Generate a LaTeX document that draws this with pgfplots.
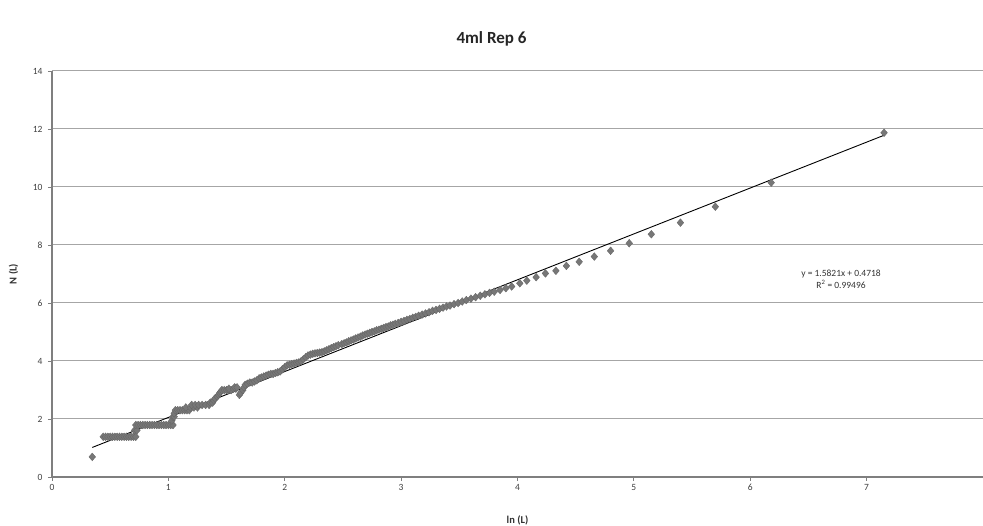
\documentclass[border=0pt]{standalone}
\usepackage{fontspec}
\setmainfont{Carlito}
\usepackage{pgfplots}
\pgfplotsset{compat=1.18}
\usetikzlibrary{calc}
\definecolor{gridc}{HTML}{A6A6A6}
\definecolor{axisc}{HTML}{7F7F7F}
\definecolor{markc}{HTML}{777777}
\begin{document}
\begin{tikzpicture}
\begin{axis}[
  at={(0,0)}, anchor=south west,
  scale only axis, width=931pt, height=406pt,
  xmin=0, xmax=8, ymin=0, ymax=14,
  xtick={0,1,2,3,4,5,6,7}, ytick={0,2,4,6,8,10,12,14},
  axis x line*=bottom, axis y line*=left,
  axis line style={draw=axisc, line width=1.1pt},
  ymajorgrids, grid style={draw=gridc, line width=1pt},
  tick align=outside, major tick length=4pt,
  tick style={draw=axisc, line width=0.8pt},
  /pgf/number format/assume math mode=true,
  ticklabel style={font=\fontsize{9.5}{11}\selectfont, text=black!75},
  yticklabel style={xshift=-2pt},
  xlabel={ln (L)}, ylabel={N (L)},
  label style={font=\bfseries\fontsize{10.5}{12}\selectfont, text=black!80},
  xlabel style={at={(axis description cs:0.5,-0.106)}, anchor=center},
  ylabel style={at={(axis description cs:-0.0414,0.5)}, anchor=center},
  clip=false,
]
\addplot[only marks, mark=diamond*, mark size=3.9pt,
  mark options={fill=markc, draw=markc!85!black, line width=0.3pt, xscale=1.15}]
table {
x y
0.346 0.693
0.44 1.386
0.46 1.386
0.48 1.386
0.50 1.386
0.52 1.386
0.54 1.386
0.56 1.386
0.58 1.386
0.60 1.386
0.62 1.386
0.64 1.386
0.66 1.386
0.68 1.386
0.70 1.386
0.72 1.386
0.71 1.609
0.73 1.609
0.72 1.792
0.74 1.792
0.76 1.792
0.78 1.792
0.80 1.792
0.82 1.792
0.84 1.792
0.86 1.792
0.88 1.792
0.90 1.792
0.92 1.792
0.94 1.792
0.96 1.792
0.98 1.792
1.00 1.792
1.02 1.792
1.04 1.792
1.03 1.946
1.04 2.079
1.05 2.079
1.05 2.197
1.06 2.303
1.08 2.303
1.10 2.303
1.12 2.303
1.14 2.303
1.16 2.303
1.18 2.303
1.15 2.398
1.19 2.398
1.22 2.398
1.25 2.398
1.20 2.485
1.23 2.485
1.26 2.485
1.29 2.485
1.32 2.485
1.35 2.485
1.36 2.565
1.38 2.565
1.39 2.639
1.40 2.708
1.42 2.773
1.43 2.833
1.44 2.890
1.45 2.944
1.46 2.996
1.48 2.996
1.50 2.996
1.52 2.996
1.54 2.996
1.52 3.045
1.56 3.045
1.58 3.045
1.57 3.091
1.59 3.091
1.61 2.833
1.62 2.890
1.64 2.996
1.65 3.091
1.66 3.178
1.68 3.219
1.70 3.258
1.72 3.258
1.74 3.296
1.76 3.332
1.78 3.401
1.80 3.434
1.82 3.466
1.84 3.497
1.86 3.526
1.88 3.555
1.90 3.555
1.92 3.584
1.94 3.611
1.96 3.638
1.98 3.714
2.00 3.784
2.02 3.850
2.04 3.871
2.06 3.892
2.08 3.912
2.10 3.932
2.12 3.951
2.14 3.989
2.16 4.060
2.18 4.127
2.20 4.190
2.22 4.220
2.24 4.248
2.26 4.263
2.28 4.277
2.30 4.290
2.32 4.304
2.34 4.331
2.36 4.369
2.38 4.407
2.40 4.443
2.42 4.477
2.44 4.511
2.46 4.543
2.49 4.58
2.51 4.61
2.53 4.64
2.55 4.68
2.57 4.71
2.59 4.74
2.61 4.78
2.63 4.81
2.65 4.84
2.67 4.88
2.69 4.91
2.71 4.94
2.73 4.97
2.75 5.00
2.77 5.02
2.79 5.06
2.81 5.08
2.83 5.11
2.85 5.14
2.87 5.17
2.89 5.19
2.91 5.23
2.93 5.25
2.95 5.28
2.975 5.31
3.00 5.35
3.025 5.38
3.05 5.42
3.075 5.45
3.10 5.49
3.125 5.52
3.15 5.56
3.18 5.60
3.21 5.64
3.24 5.68
3.27 5.73
3.30 5.76
3.33 5.80
3.36 5.84
3.39 5.88
3.42 5.91
3.455 5.96
3.49 6.00
3.525 6.05
3.56 6.10
3.60 6.15
3.64 6.20
3.68 6.25
3.72 6.30
3.76 6.35
3.80 6.39
3.85 6.45
3.90 6.51
3.95 6.57
4.02 6.68
4.08 6.77
4.16 6.89
4.24 7.02
4.33 7.11
4.42 7.28
4.53 7.42
4.66 7.60
4.80 7.80
4.96 8.06
5.15 8.37
5.40 8.77
5.70 9.32
6.18 10.15
7.15 11.87
};
\addplot[black, line width=0.9pt] coordinates {(0.346,1.019) (7.15,11.784)};
\node[font=\fontsize{9.5}{11.5}\selectfont, text=black!80, align=center] at (axis cs:6.78,6.81)
  {y = 1.5821x + 0.4718\\R\textsuperscript{2} = 0.99496};
\end{axis}
\node[font=\bfseries\fontsize{17}{20}\selectfont, text=black!85, anchor=base] at (439.5pt,433pt) {4ml Rep 6};
\pgfresetboundingbox
\useasboundingbox (-52pt,-49pt) rectangle (931pt,477pt);
\end{tikzpicture}
\end{document}
